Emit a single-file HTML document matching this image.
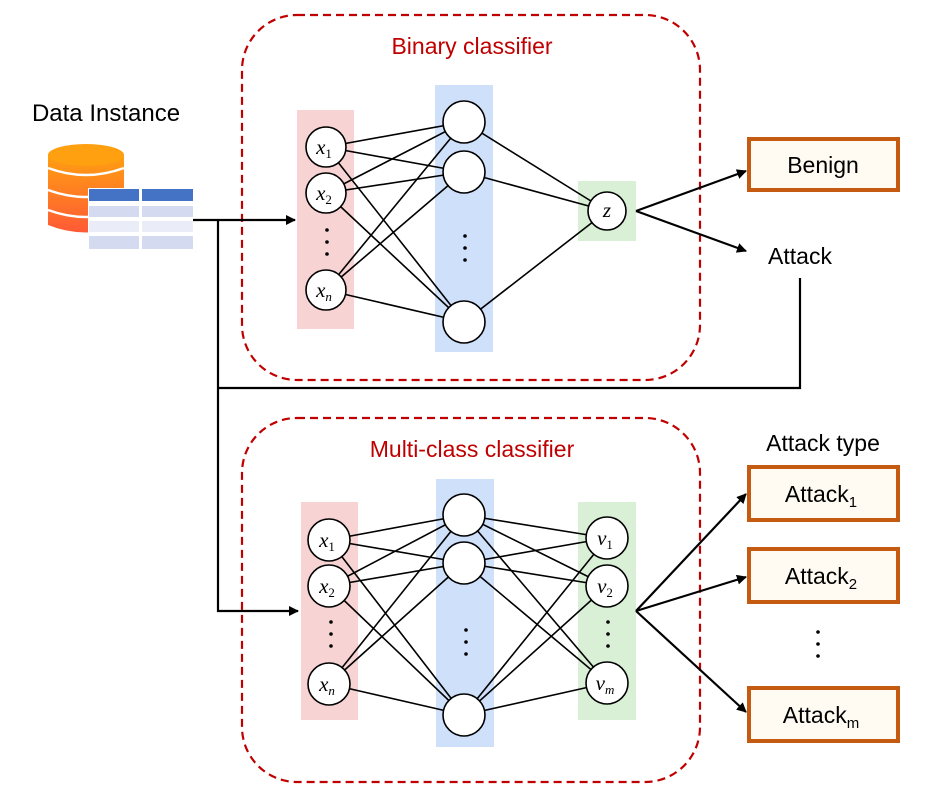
<!DOCTYPE html>
<html><head><meta charset="utf-8"><style>
body{margin:0;background:#fff;width:941px;height:801px;overflow:hidden}
svg{display:block}
.t{font-family:"Liberation Sans","Noto Sans CJK KR",sans-serif}
.m{font-family:"Liberation Serif",serif;font-style:italic}
</style></head><body>
<svg width="941" height="801" viewBox="0 0 941 801" xmlns="http://www.w3.org/2000/svg">
<defs><marker id="a" markerWidth="10" markerHeight="10" refX="9" refY="5" orient="auto" markerUnits="userSpaceOnUse"><path d="M0,0 L10,5 L0,10 z" fill="#000"/></marker></defs>
<rect x="242" y="15" width="458" height="365" rx="55" fill="none" stroke="#c00000" stroke-width="2.2" stroke-dasharray="8,5"/>
<rect x="242" y="418" width="458" height="364" rx="55" fill="none" stroke="#c00000" stroke-width="2.2" stroke-dasharray="8,5"/>
<text x="472" y="54" class="t" font-size="23" fill="#c00000" text-anchor="middle">Binary classifier</text>
<text x="472" y="457" class="t" font-size="23" fill="#c00000" text-anchor="middle">Multi-class classifier</text>
<rect x="297" y="110" width="57" height="219" fill="#f8d3d3"/>
<rect x="435" y="85" width="58" height="267" fill="#cfe0fb"/>
<rect x="578" y="181" width="58" height="60" fill="#d9f0d6"/>
<rect x="301" y="502" width="57" height="218" fill="#f8d3d3"/>
<rect x="436" y="479" width="58" height="268" fill="#cfe0fb"/>
<rect x="578" y="502" width="58" height="218" fill="#d9f0d6"/>
<g stroke="#000" stroke-width="1.6">
<line x1="326" y1="147" x2="464" y2="122"/><line x1="326" y1="147" x2="464" y2="172"/><line x1="326" y1="147" x2="464" y2="322"/>
<line x1="326" y1="193" x2="464" y2="122"/><line x1="326" y1="193" x2="464" y2="172"/><line x1="326" y1="193" x2="464" y2="322"/>
<line x1="326" y1="290" x2="464" y2="122"/><line x1="326" y1="290" x2="464" y2="172"/><line x1="326" y1="290" x2="464" y2="322"/>
<line x1="464" y1="122" x2="607" y2="211"/><line x1="464" y1="172" x2="607" y2="211"/><line x1="464" y1="322" x2="607" y2="211"/>
<line x1="329" y1="540" x2="464" y2="515"/><line x1="329" y1="540" x2="464" y2="563"/><line x1="329" y1="540" x2="464" y2="715"/>
<line x1="329" y1="586" x2="464" y2="515"/><line x1="329" y1="586" x2="464" y2="563"/><line x1="329" y1="586" x2="464" y2="715"/>
<line x1="329" y1="684" x2="464" y2="515"/><line x1="329" y1="684" x2="464" y2="563"/><line x1="329" y1="684" x2="464" y2="715"/>
<line x1="464" y1="515" x2="607" y2="538"/><line x1="464" y1="515" x2="607" y2="586"/><line x1="464" y1="515" x2="607" y2="683"/>
<line x1="464" y1="563" x2="607" y2="538"/><line x1="464" y1="563" x2="607" y2="586"/><line x1="464" y1="563" x2="607" y2="683"/>
<line x1="464" y1="715" x2="607" y2="538"/><line x1="464" y1="715" x2="607" y2="586"/><line x1="464" y1="715" x2="607" y2="683"/>
</g>
<g fill="#fff" stroke="#000" stroke-width="1.6">
<circle cx="326" cy="147" r="20"/><circle cx="326" cy="193" r="20"/><circle cx="326" cy="290" r="20"/>
<circle cx="464" cy="122" r="21"/><circle cx="464" cy="172" r="21"/><circle cx="464" cy="322" r="21"/>
<circle cx="607" cy="211" r="19"/>
<circle cx="329" cy="540" r="21"/><circle cx="329" cy="586" r="21"/><circle cx="329" cy="684" r="21"/>
<circle cx="464" cy="515" r="21"/><circle cx="464" cy="563" r="21"/><circle cx="464" cy="715" r="21"/>
<circle cx="607" cy="538" r="21"/><circle cx="607" cy="586" r="21"/><circle cx="607" cy="683" r="21"/>
</g>
<g class="m" font-size="21" text-anchor="middle">
<text x="324" y="154">x<tspan font-size="13" font-style="normal" dy="4">1</tspan></text>
<text x="324" y="200">x<tspan font-size="13" font-style="normal" dy="4">2</tspan></text>
<text x="324" y="297">x<tspan font-size="13" dy="4">n</tspan></text>
<text x="607" y="217">z</text>
<text x="327" y="547">x<tspan font-size="13" font-style="normal" dy="4">1</tspan></text>
<text x="327" y="593">x<tspan font-size="13" font-style="normal" dy="4">2</tspan></text>
<text x="327" y="691">x<tspan font-size="13" dy="4">n</tspan></text>
<text x="605" y="545">v<tspan font-size="13" font-style="normal" dy="4">1</tspan></text>
<text x="605" y="593">v<tspan font-size="13" font-style="normal" dy="4">2</tspan></text>
<text x="605" y="690">v<tspan font-size="13" dy="4">m</tspan></text>
</g>
<g fill="#000">
<circle cx="327" cy="230" r="1.8"/><circle cx="327" cy="242" r="1.8"/><circle cx="327" cy="254" r="1.8"/>
<circle cx="465" cy="236" r="1.8"/><circle cx="465" cy="248" r="1.8"/><circle cx="465" cy="260" r="1.8"/>
<circle cx="331" cy="622" r="1.8"/><circle cx="331" cy="634" r="1.8"/><circle cx="331" cy="646" r="1.8"/>
<circle cx="466" cy="630" r="1.8"/><circle cx="466" cy="642" r="1.8"/><circle cx="466" cy="654" r="1.8"/>
<circle cx="608" cy="622" r="1.8"/><circle cx="608" cy="634" r="1.8"/><circle cx="608" cy="646" r="1.8"/>
<circle cx="818" cy="632" r="1.8"/><circle cx="818" cy="644" r="1.8"/><circle cx="818" cy="656" r="1.8"/>
</g>
<g stroke="#000" stroke-width="2.2" fill="none">
<line x1="636" y1="211" x2="746" y2="171" marker-end="url(#a)"/>
<line x1="636" y1="211" x2="746" y2="251" marker-end="url(#a)"/>
<line x1="636" y1="611" x2="746" y2="494" marker-end="url(#a)"/>
<line x1="636" y1="611" x2="746" y2="577" marker-end="url(#a)"/>
<line x1="636" y1="611" x2="746" y2="712" marker-end="url(#a)"/>
<line x1="193" y1="220" x2="295" y2="220" marker-end="url(#a)"/>
<polyline points="218,220 218,611 298,611" marker-end="url(#a)"/>
<polyline points="800,278 800,388 218,388"/>
</g>
<g fill="#fffbf3" stroke="#c55a11" stroke-width="4">
<rect x="749" y="139" width="149" height="51"/>
<rect x="749" y="467" width="149" height="53"/>
<rect x="749" y="549" width="149" height="53"/>
<rect x="749" y="688" width="149" height="53"/>
</g>
<g class="t" font-size="23" text-anchor="middle">
<text x="823" y="173">Benign</text>
<text x="800" y="264">Attack</text>
<text x="823" y="451">Attack type</text>
<text x="821" y="502">Attack<tspan font-size="15" dy="5">1</tspan></text>
<text x="821" y="584">Attack<tspan font-size="15" dy="5">2</tspan></text>
<text x="821" y="723">Attack<tspan font-size="15" dy="5">m</tspan></text>
<text x="106" y="121" font-size="24">Data Instance</text>
</g>
<defs><linearGradient id="g" x1="0" y1="0" x2="0" y2="1"><stop offset="0" stop-color="#ff9f10"/><stop offset="1" stop-color="#ff5a36"/></linearGradient></defs>
<path d="M48,155 L48,225 Q86,240 124,225 L124,155 Z" fill="url(#g)"/>
<ellipse cx="86" cy="155" rx="38" ry="11" fill="#ffa010"/>
<path d="M48,168 Q86,182 124,168" stroke="#fff" stroke-width="2.5" fill="none"/>
<path d="M48,190 Q86,204 124,190" stroke="#fff" stroke-width="2.5" fill="none"/>
<path d="M48,210 Q86,224 124,210" stroke="#fff" stroke-width="2.5" fill="none"/>
<rect x="88" y="188" width="105" height="63" fill="#fff"/>
<rect x="89" y="189" width="50" height="12" fill="#4472c4"/><rect x="142" y="189" width="51" height="12" fill="#4472c4"/>
<rect x="89" y="206" width="50" height="11" fill="#d4daf0"/><rect x="142" y="206" width="51" height="11" fill="#d4daf0"/>
<rect x="89" y="221" width="50" height="11" fill="#eaedf8"/><rect x="142" y="221" width="51" height="11" fill="#eaedf8"/>
<rect x="89" y="236" width="50" height="13" fill="#d4daf0"/><rect x="142" y="236" width="51" height="13" fill="#d4daf0"/>
</svg>
</body></html>
